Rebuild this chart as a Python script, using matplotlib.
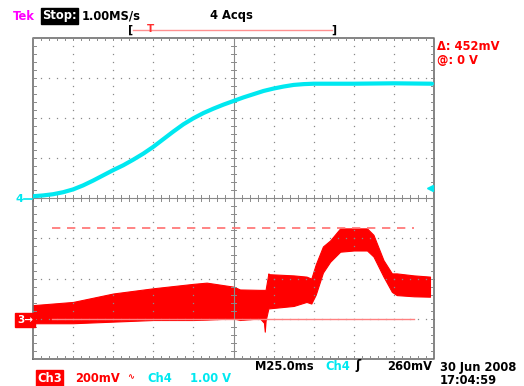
import matplotlib
matplotlib.use("Agg")
import matplotlib.pyplot as plt
import numpy as np

W, H = 524, 386
plt.rcParams['font.family'] = ['DejaVu Sans']

# ---------------- data (in screen divisions) ----------------
# Ch4 (cyan) trace
ch4_x = [0.0, 0.25, 0.5, 0.75, 1.0, 1.25, 1.5, 1.75, 2.0, 2.25, 2.5, 2.75, 3.0, 3.25, 3.5, 3.75,
         4.0, 4.25, 4.5, 4.75, 5.0, 5.25, 5.5, 5.75, 6.0, 6.25, 6.5, 6.75, 7.0, 8.0, 9.0, 9.95]
ch4_y = [0.05, 0.07, 0.10, 0.15, 0.22, 0.32, 0.44, 0.57, 0.70, 0.82, 0.96, 1.11, 1.28, 1.47, 1.66, 1.84,
         1.99, 2.12, 2.23, 2.33, 2.42, 2.51, 2.59, 2.67, 2.73, 2.78, 2.82, 2.84, 2.85, 2.85, 2.86, 2.85]

# Ch3 (red) noisy band: upper / lower envelope
ch3_x = [0.0, 1.0, 2.0, 3.0, 4.0, 4.33, 5.0, 5.16, 5.66, 5.76, 5.78, 5.80, 5.87, 5.89,
         6.5, 6.82, 6.94, 7.05, 7.23, 7.41, 7.66, 8.0, 8.33, 8.49, 8.74, 8.95, 9.07, 9.5, 9.9]
ch3_hi = [-2.66, -2.58, -2.37, -2.24, -2.13, -2.10, -2.20, -2.27, -2.28, -2.28, -2.28, -2.28, -1.87, -1.89,
          -1.92, -1.95, -2.00, -1.65, -1.20, -1.05, -0.75, -0.75, -0.75, -0.91, -1.54, -1.87, -1.87, -1.92, -1.95]
ch3_lo = [-3.11, -3.11, -3.07, -3.03, -3.03, -3.02, -2.99, -3.03, -2.99, -3.10, -3.32, -3.05, -2.74, -2.74,
          -2.68, -2.58, -2.62, -2.40, -1.85, -1.58, -1.33, -1.30, -1.30, -1.45, -1.95, -2.33, -2.41, -2.44, -2.45]

ch4_ground = 0.0
ch3_ground = -3.0
cursor_delta = 2.26          # 452 mV at 200 mV/div
cursor_x = [0.47, 9.5]
trig_level = 0.26            # 260 mV on Ch4 at 1 V/div

# ---------------- figure ----------------
fig = plt.figure(figsize=(W / 100, H / 100), dpi=100)
fig.patch.set_facecolor('white')
x0, x1, yt, yb = 33, 434, 37.5, 359
ax = fig.add_axes([x0 / W, 1 - yb / H, (x1 - x0) / W, (yb - yt) / H])
ax.set_xlim(0, 10)
ax.set_ylim(-4, 4)
ax.axis('off')

grid_c = '#8a8a8a'
# dotted grid
for gx in range(1, 10):
    if gx == 5:
        continue
    ys = np.arange(-4, 4.001, 0.2)
    ax.plot([gx] * len(ys), ys, ls='none', marker='s', ms=0.9, color=grid_c, mew=0)
for gy in range(-3, 4):
    if gy == 0:
        continue
    xs = np.arange(0, 10.001, 0.2)
    ax.plot(xs, [gy] * len(xs), ls='none', marker='s', ms=0.9, color=grid_c, mew=0)

# centre cross with ticks
ax.plot([0, 10], [0, 0], color=grid_c, lw=0.8)
ax.plot([5, 5], [-4, 4], color=grid_c, lw=0.8)
for t in np.arange(0, 10.001, 0.2):
    ax.plot([t, t], [-0.07, 0.07], color=grid_c, lw=0.7)
for t in np.arange(-4, 4.001, 0.2):
    ax.plot([4.93, 5.07], [t, t], color=grid_c, lw=0.7)
# border with inward ticks
ax.plot([0, 10, 10, 0, 0], [-4, -4, 4, 4, -4], color='#707070', lw=1.2, clip_on=False)
for t in np.arange(0, 10.001, 0.2):
    ax.plot([t, t], [4, 3.93], color=grid_c, lw=0.7)
    ax.plot([t, t], [-4, -3.93], color=grid_c, lw=0.7)
for t in np.arange(-4, 4.001, 0.2):
    ax.plot([0, 0.07], [t, t], color=grid_c, lw=0.7)
    ax.plot([10, 9.93], [t, t], color=grid_c, lw=0.7)

# cursors
ax.plot(cursor_x, [ch3_ground + cursor_delta] * 2, color='#ff7070', lw=1.2, dashes=(5, 4))
ax.plot(cursor_x, [ch3_ground] * 2, color='#ff8080', lw=1.0)

# traces
ax.fill_between(ch3_x, ch3_lo, ch3_hi, color='#ff0000', lw=0.8, edgecolor='#ff0000')
ax.plot(ch4_x, ch4_y, color='#00e8f0', lw=3.0, solid_capstyle='round', solid_joinstyle='round')

# ---------------- annotations ----------------
def T(x, y, s, **kw):
    kw.setdefault('fontsize', 8.3)
    kw.setdefault('fontweight', 'bold')
    kw.setdefault('va', 'center')
    fig.text(x / W, 1 - y / H, s, **kw)

T(13, 16, 'Tek', color='#ff00ff')
T(42, 16, 'Stop:', color='white', bbox=dict(boxstyle='square,pad=0.1', fc='black', ec='black'))
T(82, 16, '1.00MS/s', color='black')
T(210, 16, '4 Acqs', color='black')

# trigger position bar
fig.add_artist(plt.Line2D([133 / W, 332 / W], [1 - 30 / H] * 2, color='#ff9090', lw=1.0))
T(128, 30, '[', color='black', fontsize=8)
T(331, 30, ']', color='black', fontsize=8)
T(147, 29, 'T', color='#ff3030', fontsize=7.5)

T(437, 47, 'Δ: 452mV', color='#ff0000')
T(437, 61, '@: 0 V', color='#ff0000')

T(255, 366, 'M25.0ms', color='black')
T(325, 366, 'Ch4', color='#00e8f0')
T(355, 366, 'ʃ', color='black', fontsize=9)
T(387, 366, '260mV', color='black')
T(440, 368, '30 Jun 2008', color='black')
T(440, 380, '17:04:59', color='black')

T(37, 378, 'Ch3', color='white', bbox=dict(boxstyle='square,pad=0.1', fc='#ff0000', ec='#ff0000'))
T(75, 378, '200mV', color='#ff0000')
T(127, 377, '∿', color='#ff0000', fontsize=6)
T(147, 378, 'Ch4', color='#00e8f0')
T(190, 378, '1.00 V', color='#00e8f0')

# channel ground markers
T(16, 199, '4', color='#00e8f0', fontsize=8)
fig.add_artist(plt.Line2D([24 / W, 32 / W], [1 - 199 / H] * 2, color='#00e8f0', lw=1.2))
T(17, 320, '3→', color='white', fontsize=7.5,
  bbox=dict(boxstyle='square,pad=0.15', fc='#ff0000', ec='#ff0000'))
ax.plot([9.9], [trig_level], marker='<', color='#00e8f0', ms=5, clip_on=False)

fig.savefig('out.png', dpi=100, facecolor='white')
